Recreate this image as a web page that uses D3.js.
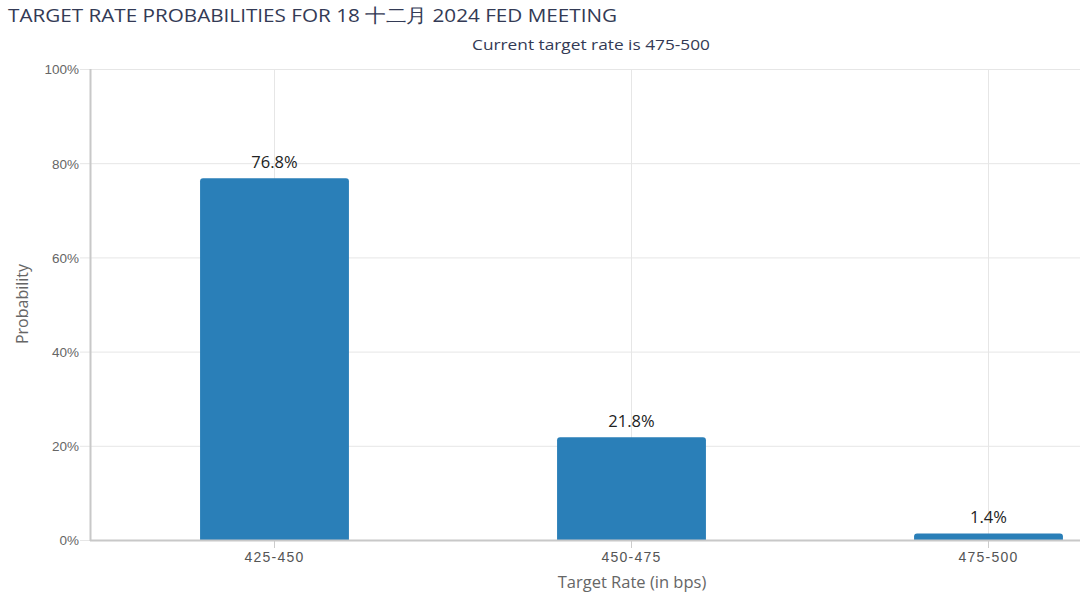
<!DOCTYPE html>
<html>
<head>
<meta charset="utf-8">
<script src="https://cdn.jsdelivr.net/npm/d3@7"></script>
<style>
  body { margin: 0; background: #fff; }
  svg { display: block; font-family: "Open Sans", "Noto Sans", sans-serif; }
</style>
</head>
<body>
<div id="chart"></div>
<script>
// chart data
const rates = ["425-450", "450-475", "475-500"];
const probs = [76.8, 21.8, 1.4];
const yTicks = [0, 20, 40, 60, 80, 100];

const width = 1080, height = 608;
const plot = {left: 90, right: 1080, top: 69, bottom: 540};

let svg = d3.select("#chart").append("svg")
    .attr("width", width)
    .attr("height", height);

// band range runs past the right edge, the reference is cropped there
let xScale = d3.scaleBand().domain(rates).range([96, 1167])
    .paddingInner(0.583).paddingOuter(0.2915);
let yScale = d3.scaleLinear().domain([0, 100]).range([plot.bottom, plot.top]);

svg.append("clipPath").attr("id", "plotClip")
    .append("rect")
    .attr("x", plot.left).attr("y", 0)
    .attr("width", plot.right - plot.left).attr("height", plot.bottom);

// horizontal grid + left ticks
let yAxis = d3.axisLeft(yScale).tickValues(yTicks)
    .tickSize(-(plot.right - plot.left + 10))
    .tickFormat((d) => d + "%");
let yG = svg.append("g").attr("transform", "translate(" + (plot.left - 10) + ",0)").call(yAxis);
yG.select(".domain").remove();
yG.selectAll(".tick line").attr("stroke", "#e6e6e6").attr("stroke-width", 1);
yG.selectAll(".tick text")
    .attr("x", -1).attr("dy", "0.36em")
    .attr("fill", "#666").style("font-size", "13.5px");

// vertical grid at category centres
svg.append("g").selectAll("line")
    .data(rates)
    .enter().append("line")
        .attr("x1", (d) => xScale(d) + xScale.bandwidth() / 2)
        .attr("x2", (d) => xScale(d) + xScale.bandwidth() / 2)
        .attr("y1", plot.top).attr("y2", plot.bottom)
        .attr("stroke", "#e6e6e6");

// bars
svg.append("g").attr("clip-path", "url(#plotClip)")
    .selectAll("rect")
    .data(probs)
    .enter().append("rect")
        .attr("x", (d, i) => xScale(rates[i]))
        .attr("y", (d) => yScale(d))
        .attr("width", xScale.bandwidth())
        .attr("height", (d) => yScale(0) - yScale(d) + 4)
        .attr("rx", 3)
        .attr("fill", "#2a7fb8");

// data labels
svg.append("g").selectAll("text")
    .data(probs)
    .enter().append("text")
        .attr("x", (d, i) => xScale(rates[i]) + xScale.bandwidth() / 2)
        .attr("y", (d) => yScale(d) - 10)
        .attr("text-anchor", "middle")
        .attr("fill", "#222")
        .style("font-size", "16.5px")
        .text((d) => d.toFixed(1) + "%");

// bottom axis
let xAxis = d3.axisBottom(xScale).tickSize(8).tickSizeOuter(0);
let xG = svg.append("g").attr("transform", "translate(0," + plot.bottom + ")").call(xAxis);
xG.select(".domain").remove();
xG.selectAll(".tick line").attr("stroke", "#ccc");
xG.selectAll(".tick text").attr("y", 12).attr("dy", "0.71em")
    .attr("fill", "#555").style("font-size", "14px")
    .style("letter-spacing", "1.2px");

svg.append("line")
    .attr("x1", plot.left).attr("x2", plot.right)
    .attr("y1", plot.bottom + 0.5).attr("y2", plot.bottom + 0.5)
    .attr("stroke", "#c8c8c8").attr("stroke-width", 2);
svg.append("line")
    .attr("x1", plot.left + 0.5).attr("x2", plot.left + 0.5)
    .attr("y1", plot.top).attr("y2", plot.bottom + 1)
    .attr("stroke", "#c8c8c8").attr("stroke-width", 2);

// titles
svg.append("text")
    .attr("x", 8).attr("y", 22)
    .attr("fill", "#333a55")
    .attr("textLength", 609).attr("lengthAdjust", "spacingAndGlyphs")
    .style("font-size", "19px")
    .text("TARGET RATE PROBABILITIES FOR 18 十二月 2024 FED MEETING");

svg.append("text")
    .attr("x", 591).attr("y", 50)
    .attr("text-anchor", "middle")
    .attr("fill", "#333a55")
    .attr("textLength", 238).attr("lengthAdjust", "spacingAndGlyphs")
    .style("font-size", "15px")
    .text("Current target rate is 475-500");

svg.append("text")
    .attr("x", 632).attr("y", 588)
    .attr("text-anchor", "middle")
    .attr("fill", "#666")
    .style("font-size", "16.5px")
    .text("Target Rate (in bps)");

svg.append("text")
    .attr("transform", "translate(28,304) rotate(-90)")
    .attr("text-anchor", "middle")
    .attr("fill", "#666")
    .style("font-size", "16px")
    .text("Probability");
</script>
</body>
</html>
